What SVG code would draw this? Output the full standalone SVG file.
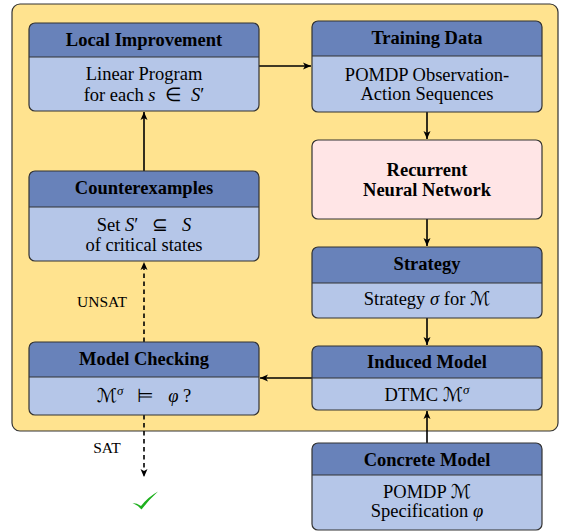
<svg xmlns="http://www.w3.org/2000/svg" width="564" height="531" viewBox="0 0 564 531">
<style>
.hd{fill:#6882BA}
.bd{fill:#B5C6E8}
.ol{fill:none;stroke:#333;stroke-width:1.2}
.dv{stroke:#333;stroke-width:1.2}
.t{font-family:"Liberation Serif",serif;font-size:18.5px;fill:#000;text-anchor:middle;white-space:pre}
.b{font-weight:bold}
.i{font-style:italic}
.m{font-family:"DejaVu Serif","DejaVu Sans",serif;font-style:normal;font-size:19px}
.lb{font-family:"Liberation Serif",serif;font-size:15.5px;fill:#000;text-anchor:middle}
.ln{fill:none;stroke:#000;stroke-width:1.6}
.ds{fill:none;stroke:#000;stroke-width:1.6;stroke-dasharray:4.5 3.5}
</style>
<defs>
<marker id="ah" markerWidth="10" markerHeight="10" refX="8" refY="5" orient="auto" markerUnits="userSpaceOnUse">
<path d="M0,1.5 L8,5 L0,8.5 L2,5 Z" fill="#000"/>
</marker>
</defs>
<rect x="12" y="4" width="546" height="427" rx="8" fill="#FFE38F" stroke="#333" stroke-width="1.2"/>

<g id="connectors">
<line class="ln" x1="259" y1="66" x2="311" y2="66" marker-end="url(#ah)"/>
<line class="ln" x1="427" y1="112" x2="427" y2="139" marker-end="url(#ah)"/>
<line class="ln" x1="427" y1="219" x2="427" y2="246" marker-end="url(#ah)"/>
<line class="ln" x1="427" y1="318" x2="427" y2="345" marker-end="url(#ah)"/>
<line class="ln" x1="427" y1="443" x2="427" y2="411" marker-end="url(#ah)"/>
<line class="ln" x1="312" y1="378" x2="260" y2="378" marker-end="url(#ah)"/>
<line class="ln" x1="144" y1="171" x2="144" y2="112" marker-end="url(#ah)"/>
<line class="ds" x1="144" y1="342" x2="144" y2="262" marker-end="url(#ah)"/>
<line class="ds" x1="144" y1="415" x2="144" y2="477" marker-end="url(#ah)"/>
<text class="lb" x="102" y="306.5">UNSAT</text>
<text class="lb" x="107" y="453">SAT</text>
</g>

<g id="local-improvement">
<rect class="bd" x="29" y="23" width="230" height="88" rx="6"/>
<path class="hd" d="M29,57 V29 A6,6 0 0 1 35,23 H253 A6,6 0 0 1 259,29 V57 Z"/>
<line class="dv" x1="29" y1="57" x2="259" y2="57"/>
<rect class="ol" x="29" y="23" width="230" height="88" rx="6"/>
<text class="t b" x="144" y="45.5">Local Improvement</text>
<text class="t" x="144" y="80">Linear Program</text>
<text class="t" x="144" y="100.5">for each <tspan class="i">s</tspan>  ∈  <tspan class="i">S</tspan>′</text>
</g>

<g id="training-data">
<rect class="bd" x="312" y="21" width="230" height="91" rx="6"/>
<path class="hd" d="M312,56 V27 A6,6 0 0 1 318,21 H536 A6,6 0 0 1 542,27 V56 Z"/>
<line class="dv" x1="312" y1="56" x2="542" y2="56"/>
<rect class="ol" x="312" y="21" width="230" height="91" rx="6"/>
<text class="t b" x="427" y="44">Training Data</text>
<text class="t" x="427" y="81">POMDP Observation-</text>
<text class="t" x="427" y="100">Action Sequences</text>
</g>

<g id="rnn">
<rect x="312" y="140" width="230" height="79" rx="6" fill="#FFE5E6" stroke="#333" stroke-width="1.2"/>
<text class="t b" x="427" y="176">Recurrent</text>
<text class="t b" x="427" y="195.5">Neural Network</text>
</g>

<g id="strategy">
<rect class="bd" x="312" y="247" width="230" height="71" rx="6"/>
<path class="hd" d="M312,283 V253 A6,6 0 0 1 318,247 H536 A6,6 0 0 1 542,253 V283 Z"/>
<line class="dv" x1="312" y1="283" x2="542" y2="283"/>
<rect class="ol" x="312" y="247" width="230" height="71" rx="6"/>
<text class="t b" x="427" y="269.5">Strategy</text>
<text class="t" x="427" y="305">Strategy <tspan class="i">σ</tspan> for <tspan class="m">ℳ</tspan></text>
</g>

<g id="induced-model">
<rect class="bd" x="312" y="346" width="230" height="64" rx="6"/>
<path class="hd" d="M312,378 V352 A6,6 0 0 1 318,346 H536 A6,6 0 0 1 542,352 V378 Z"/>
<line class="dv" x1="312" y1="378" x2="542" y2="378"/>
<rect class="ol" x="312" y="346" width="230" height="64" rx="6"/>
<text class="t b" x="427" y="367.5">Induced Model</text>
<text class="t" x="427" y="401">DTMC <tspan class="m">ℳ</tspan><tspan class="i" font-size="13" dy="-7">σ</tspan></text>
</g>

<g id="counterexamples">
<rect class="bd" x="29" y="171" width="230" height="90" rx="6"/>
<path class="hd" d="M29,207 V177 A6,6 0 0 1 35,171 H253 A6,6 0 0 1 259,177 V207 Z"/>
<line class="dv" x1="29" y1="207" x2="259" y2="207"/>
<rect class="ol" x="29" y="171" width="230" height="90" rx="6"/>
<text class="t b" x="144" y="194">Counterexamples</text>
<text class="t" x="144" y="231">Set <tspan class="i">S</tspan>′   ⊆   <tspan class="i">S</tspan></text>
<text class="t" x="144" y="250.5">of critical states</text>
</g>

<g id="model-checking">
<rect class="bd" x="29" y="342" width="230" height="73" rx="6"/>
<path class="hd" d="M29,377 V348 A6,6 0 0 1 35,342 H253 A6,6 0 0 1 259,348 V377 Z"/>
<line class="dv" x1="29" y1="377" x2="259" y2="377"/>
<rect class="ol" x="29" y="342" width="230" height="73" rx="6"/>
<text class="t b" x="144" y="364.5">Model Checking</text>
<text class="t" x="144" y="402"><tspan class="m">ℳ</tspan><tspan class="i" font-size="13" dy="-7">σ</tspan><tspan dy="7">   ⊨   </tspan><tspan class="i">φ</tspan> ?</text>
</g>

<g id="concrete-model">
<rect class="bd" x="312" y="443" width="230" height="87" rx="6"/>
<path class="hd" d="M312,475 V449 A6,6 0 0 1 318,443 H536 A6,6 0 0 1 542,449 V475 Z"/>
<line class="dv" x1="312" y1="475" x2="542" y2="475"/>
<rect class="ol" x="312" y="443" width="230" height="87" rx="6"/>
<text class="t b" x="427" y="465.5">Concrete Model</text>
<text class="t" x="427" y="498">POMDP <tspan class="m">ℳ</tspan></text>
<text class="t" x="427" y="517">Specification <tspan class="i">φ</tspan></text>
</g>

<g id="checkmark">
<path d="M132.5,503 Q137,503 141,506 Q148,497 158,491.5 Q149,499.5 141.5,509.5 Q137.5,505 132.5,503 Z" fill="#1DB01D"/>
</g>
</svg>
